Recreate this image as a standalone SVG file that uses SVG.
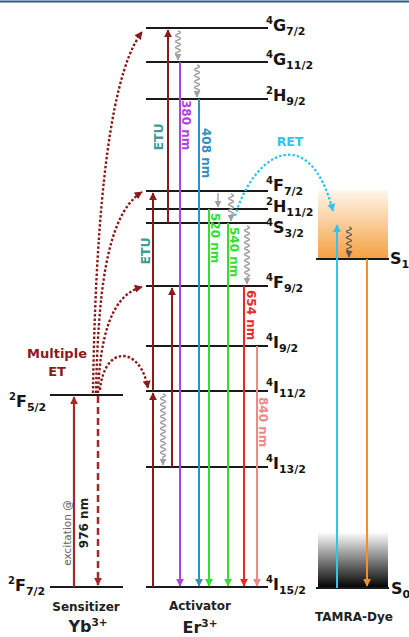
<svg xmlns="http://www.w3.org/2000/svg" width="409" height="637" viewBox="0 0 409 637">
<style>
.lvl{stroke:#1a1a1a;stroke-width:2.2}
.lab{font-family:"DejaVu Sans",sans-serif;font-weight:bold;font-size:16px;fill:#151515}
.sup{font-size:10px}
.sub{font-size:11px}
.em{font-family:"DejaVu Sans",sans-serif;font-weight:bold;font-size:12px}
.etu{font-family:"DejaVu Sans",sans-serif;font-weight:bold;font-size:12.5px;fill:#3f9a9a}
.dot{fill:none;stroke:#8b1a1a;stroke-width:2.4;stroke-dasharray:2.5 2}
.wav{fill:none;stroke:#a0a0a0;stroke-width:1.4}
.cap{font-family:"DejaVu Sans",sans-serif;font-weight:bold;font-size:12px;fill:#222}
.big{font-family:"DejaVu Sans",sans-serif;font-weight:bold;font-size:16px;fill:#222}
</style>
<defs>
<marker id="mDR" viewBox="0 0 10 10" refX="9" refY="5" markerWidth="8" markerHeight="8" markerUnits="userSpaceOnUse" orient="auto"><path d="M0 0L10 5L0 10z" fill="#8b1a1a"/></marker>
<marker id="mEx" viewBox="0 0 10 10" refX="9" refY="5" markerWidth="8" markerHeight="8" markerUnits="userSpaceOnUse" orient="auto"><path d="M0 0L10 5L0 10z" fill="#a52828"/></marker>
<marker id="mPu" viewBox="0 0 10 10" refX="9" refY="5" markerWidth="8" markerHeight="8" markerUnits="userSpaceOnUse" orient="auto"><path d="M0 0L10 5L0 10z" fill="#b040e0"/></marker>
<marker id="mBl" viewBox="0 0 10 10" refX="9" refY="5" markerWidth="8" markerHeight="8" markerUnits="userSpaceOnUse" orient="auto"><path d="M0 0L10 5L0 10z" fill="#3090c0"/></marker>
<marker id="mGr" viewBox="0 0 10 10" refX="9" refY="5" markerWidth="8" markerHeight="8" markerUnits="userSpaceOnUse" orient="auto"><path d="M0 0L10 5L0 10z" fill="#33dd33"/></marker>
<marker id="mRd" viewBox="0 0 10 10" refX="9" refY="5" markerWidth="8" markerHeight="8" markerUnits="userSpaceOnUse" orient="auto"><path d="M0 0L10 5L0 10z" fill="#e82828"/></marker>
<marker id="mPk" viewBox="0 0 10 10" refX="9" refY="5" markerWidth="8" markerHeight="8" markerUnits="userSpaceOnUse" orient="auto"><path d="M0 0L10 5L0 10z" fill="#f08888"/></marker>
<marker id="mCy" viewBox="0 0 10 10" refX="9" refY="5" markerWidth="8" markerHeight="8" markerUnits="userSpaceOnUse" orient="auto"><path d="M0 0L10 5L0 10z" fill="#30c4f0"/></marker>
<marker id="mOr" viewBox="0 0 10 10" refX="9" refY="5" markerWidth="8" markerHeight="8" markerUnits="userSpaceOnUse" orient="auto"><path d="M0 0L10 5L0 10z" fill="#f0902a"/></marker>
<marker id="mGy" viewBox="0 0 10 10" refX="9" refY="5" markerWidth="7" markerHeight="7" markerUnits="userSpaceOnUse" orient="auto"><path d="M0 0L10 5L0 10z" fill="#a0a0a0"/></marker>
<marker id="mDg" viewBox="0 0 10 10" refX="9" refY="5" markerWidth="7" markerHeight="7" markerUnits="userSpaceOnUse" orient="auto"><path d="M0 0L10 5L0 10z" fill="#555"/></marker>
<linearGradient id="gS1" x1="0" y1="0" x2="0" y2="1"><stop offset="0" stop-color="#fff6ec"/><stop offset="1" stop-color="#f5a040"/></linearGradient>
<linearGradient id="gS0" x1="0" y1="0" x2="0" y2="1"><stop offset="0" stop-color="#ffffff"/><stop offset="1" stop-color="#000000"/></linearGradient>
</defs>
<rect width="409" height="637" fill="#fff"/>
<line x1="0" y1="1.5" x2="409" y2="1.5" stroke="#2b5a8e" stroke-width="2"/>

<g id="yb">
<line class="lvl" x1="50" y1="395" x2="123" y2="395"/>
<line class="lvl" x1="50" y1="587" x2="123" y2="587"/>
<text class="lab" x="9" y="407"><tspan class="sup" dy="-7">2</tspan><tspan dy="7">F</tspan><tspan class="sub" dy="4">5/2</tspan></text>
<text class="lab" x="8" y="591"><tspan class="sup" dy="-7">2</tspan><tspan dy="7">F</tspan><tspan class="sub" dy="4">7/2</tspan></text>
<text class="cap" x="86" y="611" text-anchor="middle">Sensitizer</text>
<text class="big" x="88" y="632" text-anchor="middle">Yb<tspan font-size="10.5" dy="-6">3+</tspan></text>
<text x="57" y="358" text-anchor="middle" font-family="DejaVu Sans,sans-serif" font-weight="bold" font-size="13" fill="#8b1a1a">Multiple</text>
<text x="57" y="376" text-anchor="middle" font-family="DejaVu Sans,sans-serif" font-weight="bold" font-size="13" fill="#8b1a1a">ET</text>
<text transform="translate(71,533) rotate(-90)" text-anchor="middle" font-family="DejaVu Sans,sans-serif" font-size="10.5" fill="#666">excitation @</text>
<text transform="translate(88,523) rotate(-90)" text-anchor="middle" font-family="DejaVu Sans,sans-serif" font-weight="bold" font-size="12" fill="#222">976 nm</text>
</g>

<g id="er">
<line class="lvl" x1="146" y1="28" x2="268" y2="28"/>
<line class="lvl" x1="146" y1="62" x2="268" y2="62"/>
<line class="lvl" x1="146" y1="99" x2="268" y2="99"/>
<line class="lvl" x1="146" y1="191" x2="268" y2="191"/>
<line class="lvl" x1="146" y1="209" x2="268" y2="209"/>
<line class="lvl" x1="146" y1="223" x2="268" y2="223"/>
<line class="lvl" x1="146" y1="286" x2="268" y2="286"/>
<line class="lvl" x1="146" y1="346" x2="268" y2="346"/>
<line class="lvl" x1="146" y1="391" x2="268" y2="391"/>
<line class="lvl" x1="146" y1="467" x2="268" y2="467"/>
<line class="lvl" x1="146" y1="587" x2="268" y2="587"/>
<text class="lab" x="266" y="31"><tspan class="sup" dy="-7">4</tspan><tspan dy="7">G</tspan><tspan class="sub" dy="4">7/2</tspan></text>
<text class="lab" x="266" y="65"><tspan class="sup" dy="-7">4</tspan><tspan dy="7">G</tspan><tspan class="sub" dy="4">11/2</tspan></text>
<text class="lab" x="266" y="101"><tspan class="sup" dy="-7">2</tspan><tspan dy="7">H</tspan><tspan class="sub" dy="4">9/2</tspan></text>
<text class="lab" x="266" y="191"><tspan class="sup" dy="-7">4</tspan><tspan dy="7">F</tspan><tspan class="sub" dy="4">7/2</tspan></text>
<text class="lab" x="266" y="212"><tspan class="sup" dy="-7">2</tspan><tspan dy="7">H</tspan><tspan class="sub" dy="4">11/2</tspan></text>
<text class="lab" x="266" y="233"><tspan class="sup" dy="-7">4</tspan><tspan dy="7">S</tspan><tspan class="sub" dy="4">3/2</tspan></text>
<text class="lab" x="266" y="288"><tspan class="sup" dy="-7">4</tspan><tspan dy="7">F</tspan><tspan class="sub" dy="4">9/2</tspan></text>
<text class="lab" x="266" y="348"><tspan class="sup" dy="-7">4</tspan><tspan dy="7">I</tspan><tspan class="sub" dy="4">9/2</tspan></text>
<text class="lab" x="266" y="393"><tspan class="sup" dy="-7">4</tspan><tspan dy="7">I</tspan><tspan class="sub" dy="4">11/2</tspan></text>
<text class="lab" x="266" y="469"><tspan class="sup" dy="-7">4</tspan><tspan dy="7">I</tspan><tspan class="sub" dy="4">13/2</tspan></text>
<text class="lab" x="266" y="590"><tspan class="sup" dy="-7">4</tspan><tspan dy="7">I</tspan><tspan class="sub" dy="4">15/2</tspan></text>
<text class="cap" x="200" y="610" text-anchor="middle">Activator</text>
<text class="big" x="200" y="633" text-anchor="middle">Er<tspan font-size="10.5" dy="-6">3+</tspan></text>
<text class="etu" transform="translate(163,137) rotate(-90)" text-anchor="middle">ETU</text>
<text class="etu" transform="translate(150,251) rotate(-90)" text-anchor="middle">ETU</text>
<text class="em" transform="translate(182,100) rotate(90)" fill="#b040e0">380 nm</text>
<text class="em" transform="translate(202,128) rotate(90)" fill="#3090c0">408 nm</text>
<text class="em" transform="translate(211,213) rotate(90)" fill="#33dd33">520 nm</text>
<text class="em" transform="translate(230,227) rotate(90)" fill="#33dd33">540 nm</text>
<text class="em" transform="translate(247,290) rotate(90)" fill="#e82828">654 nm</text>
<text class="em" transform="translate(259,397) rotate(90)" fill="#f08888">840 nm</text>
</g>

<g id="tamra">
<rect x="318" y="190" width="70" height="69" fill="url(#gS1)"/>
<rect x="318" y="532" width="70" height="56" fill="url(#gS0)"/>
<line class="lvl" x1="316" y1="259" x2="389" y2="259"/>
<line class="lvl" x1="316" y1="588" x2="389" y2="588"/>
<text class="lab" x="390" y="264">S<tspan class="sub" dy="4">1</tspan></text>
<text class="lab" x="391" y="594">S<tspan class="sub" dy="4">0</tspan></text>
<text class="cap" x="354" y="621" text-anchor="middle">TAMRA-Dye</text>
</g>

<g id="connectors">
<line x1="74" y1="587" x2="74" y2="397" stroke="#a52828" stroke-width="2.2" marker-end="url(#mEx)"/>
<line x1="98" y1="396" x2="98" y2="585" stroke="#a52828" stroke-width="2.5" stroke-dasharray="7 4" marker-end="url(#mEx)"/>
<path class="dot" d="M93 393 C95 250 105 80 142 32" marker-end="url(#mDR)"/>
<path class="dot" d="M96 393 C98 300 105 215 142 192" marker-end="url(#mDR)"/>
<path class="dot" d="M98 393 C100 340 110 295 142 287" marker-end="url(#mDR)"/>
<path class="dot" d="M100 390 C104 345 140 345 148 388" marker-end="url(#mDR)"/>

<line x1="153" y1="587" x2="153" y2="393" stroke="#8b1a1a" stroke-width="2" marker-end="url(#mDR)"/>
<line x1="153" y1="391" x2="153" y2="193" stroke="#8b1a1a" stroke-width="2" marker-end="url(#mDR)"/>
<line x1="168" y1="223" x2="168" y2="30" stroke="#8b1a1a" stroke-width="2" marker-end="url(#mDR)"/>
<line x1="172" y1="467" x2="172" y2="288" stroke="#8b1a1a" stroke-width="2" marker-end="url(#mDR)"/>

<line x1="180" y1="62" x2="180" y2="586" stroke="#b040e0" stroke-width="2" marker-end="url(#mPu)"/>
<line x1="199" y1="99" x2="199" y2="586" stroke="#3090c0" stroke-width="2" marker-end="url(#mBl)"/>
<line x1="209" y1="209" x2="209" y2="586" stroke="#33dd33" stroke-width="2" marker-end="url(#mGr)"/>
<line x1="228" y1="223" x2="228" y2="586" stroke="#33dd33" stroke-width="2" marker-end="url(#mGr)"/>
<line x1="244" y1="286" x2="244" y2="586" stroke="#e82828" stroke-width="2" marker-end="url(#mRd)"/>
<line x1="257" y1="346" x2="257" y2="586" stroke="#f08888" stroke-width="2" marker-end="url(#mPk)"/>

<path class="wav" d="M178 31 q5 1.5 0 3 t0 3 t0 3 t0 3 t0 3 t0 3 t0 3 t0 3 l0 5" marker-end="url(#mGy)"/>
<path class="wav" d="M197 65 q5 1.5 0 3 t0 3 t0 3 t0 3 t0 3 t0 3 t0 3 t0 3 t0 3 l0 5" marker-end="url(#mGy)"/>
<line x1="218" y1="193" x2="218" y2="207" stroke="#a0a0a0" stroke-width="1.4" marker-end="url(#mGy)"/>
<path class="wav" d="M231 194 q5 1.5 0 3 t0 3 t0 3 t0 3 t0 3 t0 3 t0 3 l0 6" marker-end="url(#mGy)"/>
<path class="wav" d="M247 226 q5 1.5 0 3 t0 3 t0 3 t0 3 t0 3 t0 3 t0 3 t0 3 t0 3 t0 3 t0 3 t0 3 t0 3 t0 3 t0 3 t0 3 t0 3 l0 7" marker-end="url(#mGy)"/>
<path class="wav" d="M163 394 q5 1.5 0 3 t0 3 t0 3 t0 3 t0 3 t0 3 t0 3 t0 3 t0 3 t0 3 t0 3 t0 3 t0 3 t0 3 t0 3 t0 3 t0 3 t0 3 t0 3 t0 3 t0 3 l0 8" marker-end="url(#mGy)"/>

<path d="M235 216 C255 150 310 122 333 211" fill="none" stroke="#30c4f0" stroke-width="2.3" stroke-dasharray="2.5 2" marker-end="url(#mCy)"/>
<text x="290" y="146" text-anchor="middle" font-family="DejaVu Sans,sans-serif" font-weight="bold" font-size="12.5" fill="#30c4f0">RET</text>
<line x1="337" y1="588" x2="337" y2="225" stroke="#30c4f0" stroke-width="2" marker-end="url(#mCy)"/>
<line x1="367" y1="259" x2="367" y2="586" stroke="#f0902a" stroke-width="2" marker-end="url(#mOr)"/>
<path d="M349 227 q5 1.5 0 3 t0 3 t0 3 t0 3 t0 3 t0 3 t0 3 t0 3 l0 6" fill="none" stroke="#555" stroke-width="1.3" marker-end="url(#mDg)"/>
</g>
</svg>
